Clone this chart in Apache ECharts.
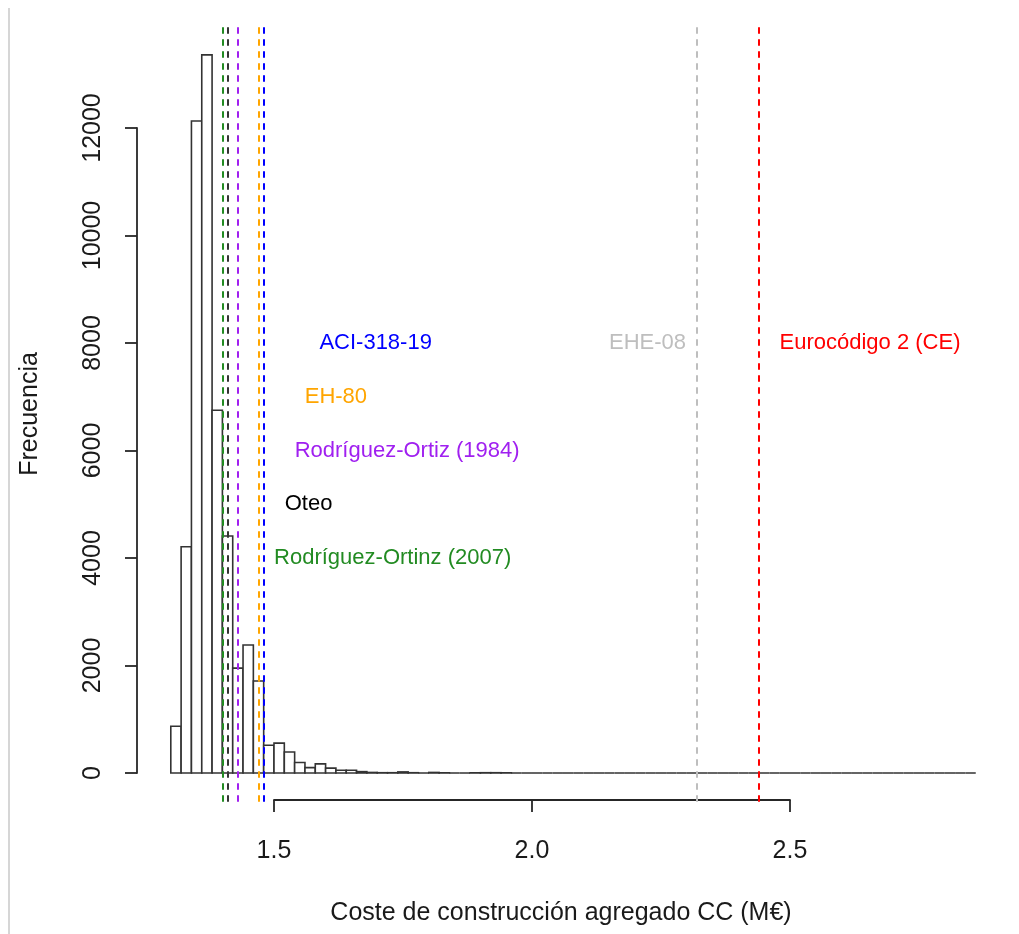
<!DOCTYPE html>
<html>
<head>
<meta charset="utf-8">
<script src="https://cdn.jsdelivr.net/npm/echarts@6/dist/echarts.min.js"></script>
<style>
html,body{margin:0;padding:0;background:#fff;}
#chart{width:1019px;height:934px;}
</style>
</head>
<body>
<div id="chart"></div>
<script>
// ---- data ----
var binStart = 1.30;
var binWidth = 0.02;
var counts = [
  870, 4210, 12130, 13360, 6750, 4410, 1950, 2380, 1710, 515,
  555, 390, 195, 100, 170, 90, 50, 50, 25, 10,
  5, 5, 20, 5, 0, 10, 3, 0, 0, 3,
  5, 5, 3, 0, 0, 0, 0, 0, 0, 0,
  0, 0, 0, 0, 0, 0, 0, 0, 0, 0,
  0, 0, 0, 0, 0, 0, 0, 0, 0, 0,
  0, 0, 0, 0, 0, 0, 0, 0, 0, 0,
  0, 0, 0, 0, 0, 0, 0, 0
];
var lineNames  = ['Rodríguez-Ortinz (2007)', 'Oteo', 'Rodríguez-Ortiz (1984)', 'EH-80', 'ACI-318-19', 'EHE-08', 'Eurocódigo 2 (CE)'];
var lineValues = [1.403, 1.413, 1.427, 1.470, 1.477, 2.324, 2.4405];
var lineColors = ['#228B22', '#333333', '#A020F0', '#FFA500', '#0000FF', '#BEBEBE', '#FF0000'];
var textColors = ['#228B22', '#000000', '#A020F0', '#FFA500', '#0000FF', '#BEBEBE', '#FF0000'];
var annotX = [1.730, 1.567, 1.758, 1.620, 1.697, 2.224, 2.655];
var annotY = [4000, 5000, 6000, 7000, 8000, 8000, 8000];
var xTicks = [1.5, 2.0, 2.5];
var yTicks = [0, 2000, 4000, 6000, 8000, 10000, 12000];
var xTitle = 'Coste de construcción agregado CC (M€)';
var yTitle = 'Frecuencia';

// ---- chart ----
var FONT = '"Liberation Sans", Arial, Helvetica, sans-serif';
var chart = echarts.init(document.getElementById('chart'), null, {renderer: 'canvas'});

var bins = counts.map(function (c, i) {
  var s = binStart + i * binWidth;
  return [s, s + binWidth, c];
});

var series = [];
series.push({
  type: 'custom',
  xAxisIndex: 0, yAxisIndex: 0,
  silent: true,
  z: 2,
  data: bins,
  encode: {x: [0, 1], y: 2},
  renderItem: function (params, api) {
    var p0 = api.coord([api.value(0), api.value(2)]);
    var p1 = api.coord([api.value(1), 0]);
    return {
      type: 'rect',
      shape: {x: p0[0], y: p0[1], width: p1[0] - p0[0], height: p1[1] - p0[1]},
      style: {fill: '#ffffff', stroke: '#333333', lineWidth: 1.6}
    };
  }
});

series.push({
  type: 'line',
  xAxisIndex: 0, yAxisIndex: 0,
  data: [],
  z: 5,
  markLine: {
    silent: true,
    symbol: ['none', 'none'],
    animation: false,
    label: {show: false},
    data: lineValues.map(function (v, i) {
      return {xAxis: v, lineStyle: {color: lineColors[i], type: [6.5, 5.5], width: 2, opacity: 1}};
    })
  }
});

lineNames.forEach(function (name, i) {
  series.push({
    type: 'scatter',
    xAxisIndex: 0, yAxisIndex: 0,
    silent: true,
    symbolSize: 0,
    z: 6,
    itemStyle: {opacity: 1},
    data: [{name: name, value: [annotX[i], annotY[i]]}],
    label: {
      show: true,
      position: 'inside',
      formatter: '{b}',
      color: textColors[i],
      opacity: 1,
      fontSize: 22,
      fontFamily: FONT
    }
  });
});

// hidden series to bind grid 1 / grid 2 axes
series.push({type: 'line', xAxisIndex: 1, yAxisIndex: 1, data: [], silent: true});
series.push({type: 'line', xAxisIndex: 2, yAxisIndex: 2, data: [], silent: true});

var axisLineStyle = {color: '#262626', width: 1.8};

chart.setOption({
  backgroundColor: '#ffffff',
  animation: false,
  grid: [
    {left: 137, top: 26.3, width: 871, height: 775.4},
    {left: 137, top: 128, width: 1, height: 645},
    {left: 274, top: 790, width: 516, height: 10}
  ],
  xAxis: [
    {gridIndex: 0, type: 'value', min: 1.2345, max: 2.9225, show: false},
    {gridIndex: 1, type: 'value', min: 0, max: 1, show: false},
    {gridIndex: 2, type: 'value', min: xTicks[0], max: xTicks[xTicks.length - 1], interval: 0.5,
      position: 'bottom',
      axisLine: {show: true, lineStyle: axisLineStyle},
      axisTick: {show: true, length: 12, lineStyle: axisLineStyle},
      splitLine: {show: false},
      axisLabel: {show: true, margin: 39, fontSize: 25, color: '#1a1a1a', fontFamily: FONT,
        formatter: function (v) { return v.toFixed(1); }}
    }
  ],
  yAxis: [
    {gridIndex: 0, type: 'value', min: -534.3, max: 13892, show: false},
    {gridIndex: 1, type: 'value', min: yTicks[0], max: yTicks[yTicks.length - 1], interval: 2000,
      position: 'left',
      axisLine: {show: true, lineStyle: axisLineStyle},
      axisTick: {show: true, length: 12, lineStyle: axisLineStyle},
      splitLine: {show: false},
      axisLabel: {show: true, rotate: 90, margin: 31, fontSize: 25, color: '#1a1a1a', fontFamily: FONT,
        formatter: function (v) { return String(v); }}
    },
    {gridIndex: 2, type: 'value', min: 0, max: 1, show: false}
  ],
  series: series,
  graphic: [
    {type: 'line', silent: true, shape: {x1: 9, y1: 8, x2: 9, y2: 934},
      style: {stroke: '#d6d6d6', lineWidth: 2}},
    {type: 'text', silent: true, x: 561, y: 913,
      style: {text: xTitle, fontSize: 25, fontFamily: FONT, fill: '#1a1a1a', align: 'center', verticalAlign: 'middle'}},
    {type: 'text', silent: true, x: 30, y: 414, rotation: Math.PI / 2,
      style: {text: yTitle, fontSize: 25, fontFamily: FONT, fill: '#1a1a1a', align: 'center', verticalAlign: 'middle'}}
  ]
});
</script>
</body>
</html>
